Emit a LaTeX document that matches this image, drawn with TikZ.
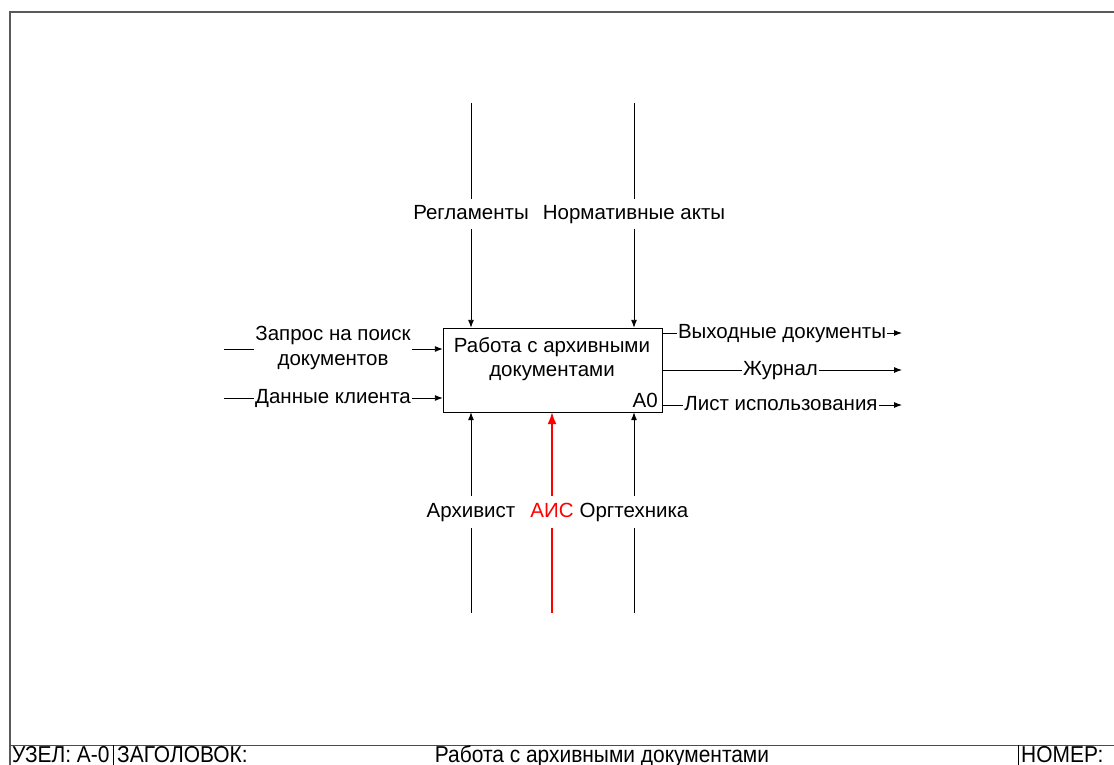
\documentclass[tikz,border=0pt]{standalone}
\usepackage{fontspec}
\setmainfont{Liberation Sans}
\usetikzlibrary{arrows.meta}
\tikzset{
  lbl/.style={inner sep=3pt, font=\fontsize{20.5}{24.5}\selectfont, align=center},
  one/.style={lbl, text height=15pt, text depth=4.5pt},
  arr/.style={line width=0.9pt, -{Latex[length=8pt,width=6pt]}},
  seg/.style={line width=0.9pt},
  redarr/.style={line width=1.6pt, red, -{Latex[length=12pt,width=9pt]}},
  redseg/.style={line width=1.6pt, red},
  frameln/.style={line width=1.4pt, draw=black!65},
  band/.style={inner sep=0pt, anchor=base west, font=\fontsize{23}{25}\selectfont},
}
\begin{document}
\begin{tikzpicture}[x=1pt,y=-1pt]
\useasboundingbox (0,0) rectangle (1114,765);
% frame
\draw[frameln] (10,765) -- (10,12) -- (1114,12);
\draw[line width=1pt, draw=black!70] (10,745) -- (1114,745);
\draw[line width=1pt] (113,745) -- (113,765);
\draw[line width=1pt] (1018,745) -- (1018,765);
\node[band] (uzel) at (12,762) {\scalebox{0.91}[1]{УЗЕЛ: А-0}};
\node[band] (zag) at (117,762) {\scalebox{0.91}[1]{ЗАГОЛОВОК:}};
\node[band, anchor=base] (title) at (602,762) {\scalebox{0.91}[1]{Работа с архивными документами}};
\node[band] (nomer) at (1021,762) {\scalebox{0.91}[1]{НОМЕР:}};
% main box
\draw[line width=0.9pt] (443,328) rectangle (662,412);
\node[minimum width=219pt, minimum height=84pt, inner sep=0pt] (box) at (552.5,370) {};
\node[lbl] (boxtext) at (552,359) {Работа с архивными\\документами};
\node[lbl, anchor=east, inner sep=2pt] (a0) at (660,400) {A0};
% controls
\coordinate (c1s) at (471,103);
\coordinate (c2s) at (634,103);
\node[one, inner sep=5pt] (reg) at (471,214) {Регламенты};
\node[one, inner sep=5pt] (norm) at (634,214) {Нормативные акты};
\draw[seg] (c1s) -- (c1s |- reg.north);
\draw[arr] (c1s |- reg.south) -- (c1s |- box.north);
\draw[seg] (c2s) -- (c2s |- norm.north);
\draw[arr] (c2s |- norm.south) -- (c2s |- box.north);
% inputs
\coordinate (i1s) at (224,349);
\coordinate (i2s) at (224,398);
\node[lbl, inner sep=1pt] (zapr) at (333,348) {Запрос на поиск\\документов};
\node[one, inner sep=1pt] (dan) at (333,398) {Данные клиента};
\draw[seg] (i1s) -- (i1s -| zapr.west);
\draw[arr] (i1s -| zapr.east) -- (i1s -| box.west);
\draw[seg] (i2s) -- (dan.west);
\draw[arr] (dan.east) -- (i2s -| box.west);
% outputs
\coordinate (o1e) at (902,333);
\coordinate (o2e) at (902,370);
\coordinate (o3e) at (902,405);
\node[one, inner sep=1pt] (vyh) at (782,333) {Выходные документы};
\node[one, inner sep=1pt] (zhur) at (780.5,370) {Журнал};
\node[one, inner sep=1pt] (list) at (781,405) {Лист использования};
\draw[seg] (o1e -| box.east) -- (vyh.west);
\draw[arr] (vyh.east) -- (o1e);
\draw[seg] (o2e -| box.east) -- (zhur.west);
\draw[arr] (zhur.east) -- (o2e);
\draw[seg] (o3e -| box.east) -- (list.west);
\draw[arr] (list.east) -- (o3e);
% mechanisms
\coordinate (m1s) at (471,613);
\coordinate (m2s) at (552,613);
\coordinate (m3s) at (634,613);
\node[one, inner sep=6pt] (arh) at (471,512) {Архивист};
\node[one, inner sep=6pt, text=red] (ais) at (552,512) {АИС};
\node[one, inner sep=6pt] (org) at (634,512) {Оргтехника};
\draw[seg] (m1s) -- (m1s |- arh.south);
\draw[arr] (m1s |- arh.north) -- (m1s |- box.south);
\draw[redseg] (m2s) -- (m2s |- ais.south);
\draw[redarr] (m2s |- ais.north) -- (m2s |- box.south);
\draw[seg] (m3s) -- (m3s |- org.south);
\draw[arr] (m3s |- org.north) -- (m3s |- box.south);
\end{tikzpicture}
\end{document}
